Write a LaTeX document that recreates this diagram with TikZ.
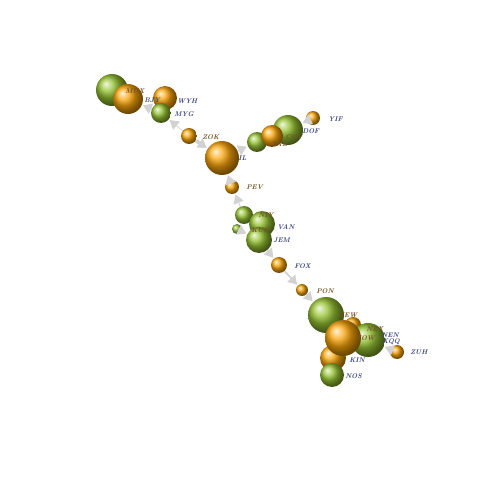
\documentclass[tikz,border=0pt]{standalone}
\usepackage{tikz}
\usetikzlibrary{arrows.meta, positioning, shapes.geometric}

\definecolor{ballor}{RGB}{250,165,10}
\definecolor{ballgr}{RGB}{150,195,50}
\definecolor{lblue}{RGB}{62,72,132}
\definecolor{lbrown}{RGB}{118,84,40}

\begin{document}
\begin{tikzpicture}[
                x=0.02cm, y=-0.02cm,
                ora/.style={circle, inner sep=0pt, ball color=ballor, minimum size=#1*0.04cm},
                gre/.style={circle, inner sep=0pt, ball color=ballgr, minimum size=#1*0.04cm},
                tagB/.style={anchor=west, inner sep=0pt, text=lblue, font=\fontsize{3.9}{4}\selectfont\bfseries\itshape},
                tagO/.style={anchor=west, inner sep=0pt, text=lbrown, font=\fontsize{3.9}{4}\selectfont\bfseries\itshape},
                link/.style={draw=gray!35, line width=#1, -{Triangle[length=5pt, width=6pt]}, shorten >=0.5pt},
                link/.default=0.8pt
            ]
                \useasboundingbox (0,0) rectangle (480,480);

                % upper left group
                \node[gre=16] (mux) at (112,90) {};
                \node[ora=15] (bjy) at (128,99) {};
                \node[ora=12] (wyh) at (165,98) {};
                \node[gre=10] (myg) at (161,113) {};
                \node[ora=8] (zok) at (189,136) {};
                \node[ora=17] (gil) at (222,158) {};

                % upper right group
                \node[gre=10] (zab) at (257,142) {};
                \node[gre=15] (dof) at (288,130) {};
                \node[ora=11] (cov) at (272,136) {};
                \node[ora=7] (yif) at (313,118) {};

                % middle
                \node[ora=7] (pev) at (232,187) {};
                \node[gre=9] (niy) at (244,215) {};
                \node[gre=5] (kub) at (237,229) {};
                \node[gre=13] (van) at (262,224) {};
                \node[gre=13] (jem) at (259,240) {};
                \node[ora=8] (fox) at (279,265) {};
                \node[ora=6] (pon) at (302,290) {};

                % lower group
                \node[gre=18] (zew) at (326,315) {};
                \node[ora=8] (nex) at (353,325) {};
                \node[gre=17] (xqq) at (368,340) {};
                \node[ora=13] (kin) at (333,358) {};
                \node[gre=12] (nos) at (332,375) {};
                \node[ora=18] (zow) at (343,338) {};
                \node[ora=7] (zuh) at (397,352) {};

                \draw[link=1.3pt] (myg) -- (bjy);
                \draw[link=0.4pt] (zok) -- (myg);
                \draw[link=2.2pt] (zok) -- (gil);
                \draw[link] (gil) -- (zab);
                \draw[link=1pt] (yif) -- (dof);
                \draw[link] (pev) -- (gil);
                \draw[link=0.5pt] (niy) -- (pev);
                \draw[link=0.6pt] (kub) -- (jem);
                \draw[link=1pt] (jem) -- (fox);
                \draw[link=1pt] (fox) -- (pon);
                \draw[link=1pt] (pon) -- (zew);
                \draw[link=1.5pt] (zuh) -- (xqq);

                \node[tagO] (t-mux) at (125,91) {MUX};
                \node[tagB] (t-bjy) at (144,100) {BJY};
                \node[tagB] (t-wyh) at (177,101) {WYH};
                \node[tagB] (t-myg) at (174,114) {MYG};
                \node[tagO] (t-zok) at (202,137) {ZOK};
                \node[tagB] (t-gil) at (238,158) {IL};
                \node[tagO] (t-zab) at (271,144) {ZAB};
                \node[tagO] (t-cov) at (285,137) {COV};
                \node[tagB] (t-dof) at (302,131) {DOF};
                \node[tagB] (t-yif) at (328,119) {YIF};
                \node[tagO] (t-pev) at (246,187) {PEV};
                \node[tagO] (t-niy) at (258,215) {NIY};
                \node[tagO] (t-kub) at (251,230) {KUB};
                \node[tagB] (t-van) at (277,227) {VAN};
                \node[tagB] (t-jem) at (273,240) {JEM};
                \node[tagB] (t-fox) at (294,266) {FOX};
                \node[tagO] (t-pon) at (316,291) {PON};
                \node[tagO] (t-zew) at (339,315) {ZEW};
                \node[tagO] (t-nex) at (366,329) {NEX};
                \node[tagB] (t-nen) at (381,335) {NEN};
                \node[tagB] (t-xqq) at (382,342) {XQQ};
                \node[tagO] (t-zow) at (356,338) {ZOW};
                \node[tagB] (t-zuh) at (410,352) {ZUH};
                \node[tagB] (t-kin) at (349,360) {KIN};
                \node[tagB] (t-nos) at (345,376) {NOS};
            \end{tikzpicture}
\end{document}
